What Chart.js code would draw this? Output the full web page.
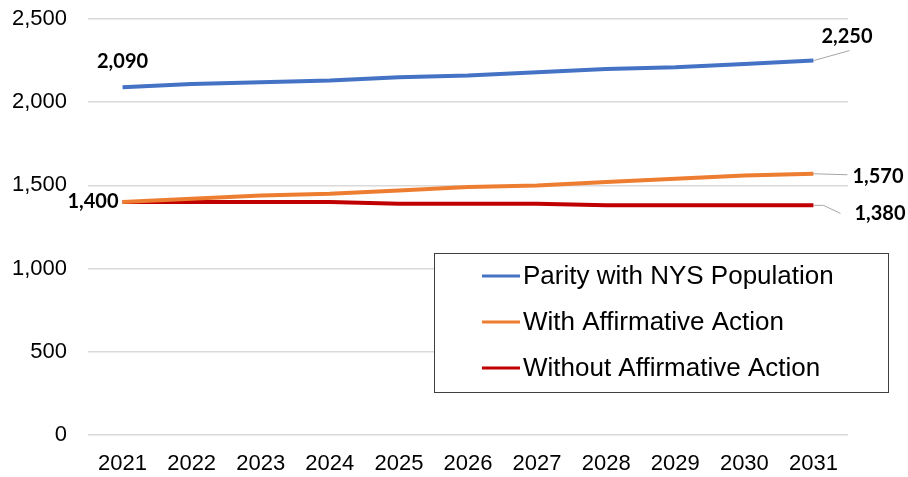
<!DOCTYPE html>
<html>
<head>
<meta charset="utf-8">
<script src="https://cdn.jsdelivr.net/npm/chart.js@4/dist/chart.umd.min.js"></script>
<style>
  html, body { margin: 0; padding: 0; background: #fff; }
  #wrap { width: 908px; height: 477px; }
</style>
</head>
<body>
<div id="wrap"><canvas id="projChart"></canvas></div>
<script>
var years = ['2021', '2022', '2023', '2024', '2025', '2026', '2027', '2028', '2029', '2030', '2031'];
var parity = [2090, 2110, 2120, 2130, 2150, 2160, 2180, 2200, 2210, 2230, 2250];
var withAA = [1400, 1420, 1440, 1450, 1470, 1490, 1500, 1520, 1540, 1560, 1570];
var withoutAA = [1400, 1400, 1400, 1400, 1390, 1390, 1390, 1380, 1380, 1380, 1380];
var seriesNames = ['Parity with NYS Population', 'With Affirmative Action', 'Without Affirmative Action'];
var seriesColors = ['#4472C4', '#ED7D31', '#C00000'];

function fmt(v) {
    return v.toLocaleString('en-US');
}

// end labels: first and last point of each line, with little leader lines on the right
var endLabels = {
    id: 'endLabels',
    afterDatasetsDraw: function(chart) {
        var ctx = chart.ctx;
        var x = chart.scales.x, y = chart.scales.y;
        var last = years.length - 1;
        ctx.save();
        ctx.font = 'bold 20px Lato, "Open Sans", sans-serif';
        ctx.fillStyle = '#000';
        ctx.textBaseline = 'middle';

        // first points
        var x0 = x.getPixelForValue(0);
        ctx.textAlign = 'center';
        ctx.fillText(fmt(parity[0]), x0, y.getPixelForValue(parity[0]) - 26);
        ctx.textAlign = 'right';
        ctx.fillText(fmt(withoutAA[0]), x0 - 4, y.getPixelForValue(withoutAA[0]));

        // last points with leaders
        var xl = x.getPixelForValue(last);
        var ends = [
            { v: parity[last], dx: 36, dy: -10, tx: 8, ty: -24 },
            { v: withAA[last], dx: 34, dy: 1, tx: 39, ty: 3 },
            { v: withoutAA[last], dx: 27, dy: 8, tx: 41, ty: 8 }
        ];
        ends.forEach(function(e) {
            var py = y.getPixelForValue(e.v);
            ctx.strokeStyle = '#a6a6a6';
            ctx.lineWidth = 1;
            ctx.beginPath();
            ctx.moveTo(xl, py);
            if (e.v === withoutAA[last]) {
                ctx.lineTo(xl + 10, py);
            }
            ctx.lineTo(xl + e.dx, py + e.dy);
            ctx.stroke();
            ctx.textAlign = 'left';
            ctx.fillText(fmt(e.v), xl + e.tx, py + e.ty);
        });
        ctx.restore();
    }
};

// boxed legend sitting inside the plot area
var boxLegend = {
    id: 'boxLegend',
    afterDraw: function(chart) {
        var ctx = chart.ctx;
        var bx = 434, by = 253, bw = 454, bh = 139;
        ctx.save();
        ctx.fillStyle = '#fff';
        ctx.fillRect(bx, by, bw, bh);
        ctx.strokeStyle = '#404040';
        ctx.lineWidth = 1;
        ctx.strokeRect(bx + 0.5, by + 0.5, bw, bh);
        ctx.font = '26px "Liberation Sans", Arial, sans-serif';
        ctx.textBaseline = 'middle';
        ctx.textAlign = 'left';
        seriesNames.forEach(function(name, i) {
            var ly = by + 23 + i * 46;
            ctx.strokeStyle = seriesColors[i];
            ctx.lineWidth = 3;
            ctx.beginPath();
            ctx.moveTo(482, ly);
            ctx.lineTo(520, ly);
            ctx.stroke();
            ctx.fillStyle = '#000';
            ctx.fillText(name, 523, ly + 1);
        });
        ctx.restore();
    }
};

var ctx = document.getElementById('projChart').getContext('2d');
var projChart = new Chart(ctx, {
    type: 'line',
    data: {
        labels: years,
        datasets: [
            { label: seriesNames[0], data: parity, borderColor: seriesColors[0] },
            { label: seriesNames[1], data: withAA, borderColor: seriesColors[1] },
            { label: seriesNames[2], data: withoutAA, borderColor: seriesColors[2] }
        ].map(function(d) {
            d.borderWidth = 4;
            d.pointRadius = 0;
            d.tension = 0;
            d.fill = false;
            return d;
        })
    },
    options: {
        responsive: true,
        maintainAspectRatio: false,
        animation: false,
        layout: { padding: { top: 19, right: 60, bottom: 0, left: 0 } },
        plugins: {
            legend: { display: false },
            tooltip: { enabled: false }
        },
        scales: {
            x: {
                offset: true,
                grid: { display: false, drawTicks: false },
                border: { display: false },
                ticks: {
                    color: '#000',
                    padding: 16,
                    font: { family: '"Liberation Sans", Arial, sans-serif', size: 22 }
                },
                afterFit: function(scale) { scale.height = 42; }
            },
            y: {
                min: 0,
                max: 2500,
                grid: { color: '#d9d9d9', lineWidth: 1.5, drawTicks: false },
                border: { display: false },
                ticks: {
                    stepSize: 500,
                    color: '#000',
                    padding: 21,
                    font: { family: '"Liberation Sans", Arial, sans-serif', size: 22 },
                    callback: function(v) { return fmt(v); }
                },
                afterFit: function(scale) {
                    scale.width = 88;
                    scale.paddingTop = 0;
                    scale.paddingBottom = 0;
                }
            }
        }
    },
    plugins: [endLabels, boxLegend]
});
</script>
</body>
</html>
